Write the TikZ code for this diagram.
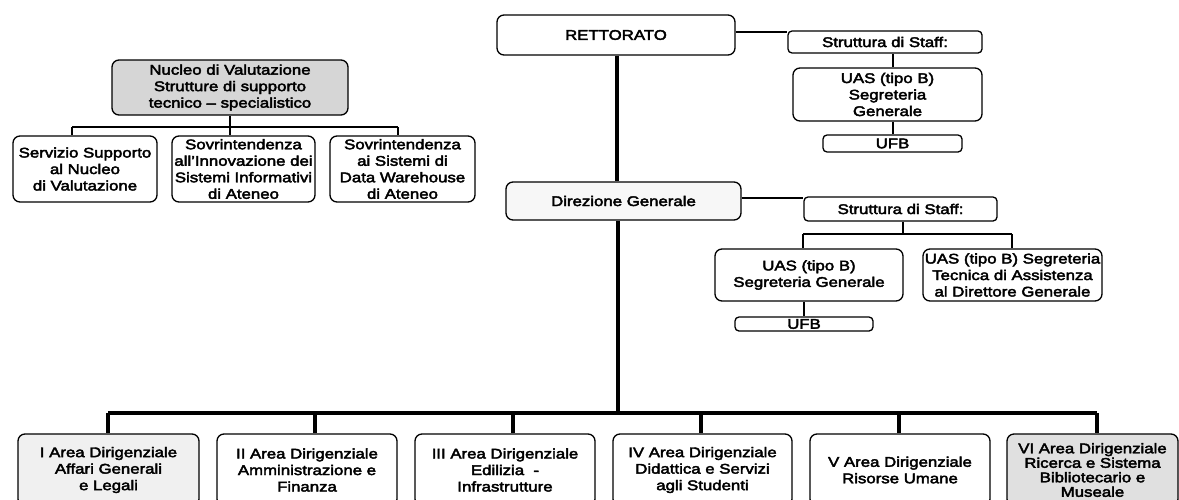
\documentclass[tikz,border=0pt]{standalone}
\usepackage{fontspec}
\setmainfont{Liberation Sans}[FakeStretch=1.2,FakeBold=3]
\begin{document}
\begin{tikzpicture}[x=1pt,y=-1pt,
  box/.style={draw=black, line width=1.3pt, rounded corners=7pt, inner sep=0pt, align=center,
    font=\fontsize{14}{16.5}\selectfont},
  small/.style={box, rounded corners=4pt},
  conn/.style={line width=1.4pt},
  trunk/.style={line width=3.2pt}]
\useasboundingbox (0,0) rectangle (1179,499);
\clip (0,0) rectangle (1179,499);

% top: Rettorato and its staff
\node[box, minimum width=238pt, minimum height=40pt] (ret) at (616,35) {RETTORATO};
\node[small, minimum width=194pt, minimum height=22pt] (st1) at (885,42) {Struttura di Staff:};
\node[box, minimum width=189pt, minimum height=53pt] (uas1) at (887.5,94.5) {UAS (tipo B)\\Segreteria\\Generale};
\node[small, minimum width=139pt, minimum height=17pt] (ufb1) at (892.5,143.5) {UFB};

% Nucleo group
\node[box, fill=black!16, minimum width=236pt, minimum height=55pt] (nuc) at (230,87.5) {Nucleo di Valutazione\\Strutture di supporto\\tecnico -- specialistico};
\node[box, minimum width=144pt, minimum height=66pt] (s1) at (85,169) {Servizio Supporto\\al Nucleo\\di Valutazione};
\node[box, minimum width=143pt, minimum height=66pt] (s2) at (243.5,169) {Sovrintendenza\\all'Innovazione dei\\Sistemi Informativi\\di Ateneo};
\node[box, minimum width=145pt, minimum height=66pt] (s3) at (402.5,169) {Sovrintendenza\\ai Sistemi di\\Data Warehouse\\di Ateneo};

% Direzione Generale and its staff
\node[box, fill=black!3, minimum width=235pt, minimum height=38pt] (dg) at (623.5,201) {Direzione Generale};
\node[small, minimum width=193pt, minimum height=24pt] (st2) at (900.5,209) {Struttura di Staff:};
\node[box, minimum width=188pt, minimum height=52pt] (uas2) at (809,275) {UAS (tipo B)\\Segreteria Generale};
\node[box, minimum width=179pt, minimum height=52pt] (uas3) at (1012.5,275) {UAS (tipo B) Segreteria\\Tecnica di Assistenza\\al Direttore Generale};
\node[small, minimum width=138pt, minimum height=14pt] (ufb2) at (804,324) {UFB};

% bottom areas
\node[box, fill=black!6, minimum width=181pt, minimum height=72pt] (a1) at (108.5,470) {I Area Dirigenziale\\Affari Generali\\e Legali};
\node[box, minimum width=180pt, minimum height=72pt] (a2) at (307,470) {II Area Dirigenziale\\Amministrazione e\\Finanza};
\node[box, minimum width=180pt, minimum height=72pt] (a3) at (505,470) {III Area Dirigenziale\\Edilizia~~-\\Infrastrutture};
\node[box, minimum width=179pt, minimum height=72pt] (a4) at (702.5,470) {IV Area Dirigenziale\\Didattica e Servizi\\agli Studenti};
\node[box, minimum width=180pt, minimum height=72pt] (a5) at (900,470) {V Area Dirigenziale\\Risorse Umane};
\node[box, fill=black!12, minimum width=171pt, minimum height=72pt,
  font=\fontsize{14}{14.5}\selectfont] (a6) at (1092.5,470) {VI Area Dirigenziale\\Ricerca e Sistema\\Bibliotecario e\\Museale};

% junction coordinates
\coordinate (jr) at (617,0);
\coordinate (jb) at (618,413);
\coordinate (b1) at (108,413);
\coordinate (b2) at (315,413);
\coordinate (b3) at (513,413);
\coordinate (b4) at (701,413);
\coordinate (b5) at (899,413);
\coordinate (b6) at (1097,413);
\coordinate (h1) at (0,32);
\coordinate (x1) at (893,0);
\coordinate (h2) at (0,198);
\coordinate (x2) at (903,0);
\coordinate (n0) at (230,127);
\coordinate (n1) at (72,127);
\coordinate (n3) at (398,127);
\coordinate (m0) at (903,234);
\coordinate (m1) at (803,234);
\coordinate (m2) at (1012,234);

% trunk connectors
\draw[trunk] (ret.south -| jr) -- (dg.north -| jr);
\draw[trunk] (dg.south -| jb) -- (jb);
\draw[trunk] (b1) -- (b6);
\foreach \b/\a in {b1/a1,b2/a2,b3/a3,b4/a4,b5/a5,b6/a6}
  \draw[trunk] (\b) -- (\b |- \a.north);

% rettorato staff
\draw[conn] (ret.east |- h1) -- (st1.west |- h1);
\draw[conn] (st1.south -| x1) -- (uas1.north -| x1);
\draw[conn] (uas1.south -| x1) -- (ufb1.north -| x1);

% DG staff
\draw[conn] (dg.east |- h2) -- (st2.west |- h2);
\draw[conn] (st2.south -| x2) -- (m0);
\draw[conn] (m1) -- (m2);
\draw[conn] (m1) -- (m1 |- uas2.north);
\draw[conn] (m2) -- (m2 |- uas3.north);
\draw[conn] (uas2.south -| ufb2.north) -- (ufb2.north);

% nucleo
\draw[conn] (nuc.south -| n0) -- (n0);
\draw[conn] (n1) -- (n3);
\draw[conn] (n1) -- (n1 |- s1.north);
\draw[conn] (n0) -- (n0 |- s2.north);
\draw[conn] (n3) -- (n3 |- s3.north);
\end{tikzpicture}
\end{document}
